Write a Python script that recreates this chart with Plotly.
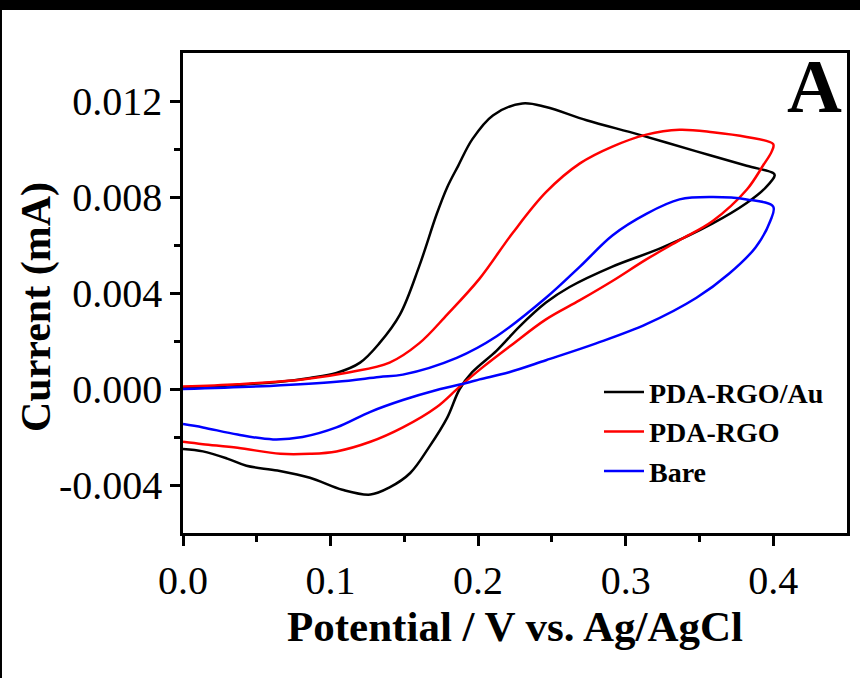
import plotly.graph_objects as go

# PDA-RGO/Au (black) - full CV loop: forward then reverse
au_v = [0.000, 0.037, 0.066, 0.086, 0.104, 0.120, 0.133, 0.147, 0.160, 0.172, 0.179, 0.1865,
        0.196, 0.210, 0.230, 0.246, 0.2735, 0.309, 0.348, 0.382, 0.400,
        0.401, 0.395, 0.382, 0.359, 0.325, 0.291, 0.262, 0.246, 0.228, 0.2126, 0.196,
        0.1875, 0.179, 0.167, 0.154, 0.140, 0.127, 0.108, 0.086, 0.064, 0.043, 0.030, 0.0135, 0.000]
au_i = [0.00004, 0.00017, 0.00030, 0.00046, 0.00067, 0.0011, 0.0019, 0.0031, 0.0051, 0.0073, 0.0084, 0.0093,
        0.0104, 0.0114, 0.0119, 0.01175, 0.0112, 0.0106, 0.0099, 0.0093, 0.0090,
        0.0089, 0.0084, 0.00775, 0.0069, 0.0059, 0.0051, 0.00425, 0.0036, 0.0026, 0.0016, 0.0007,
        0.0000, -0.0012, -0.0024, -0.0035, -0.0041, -0.0044, -0.0042, -0.0037, -0.0034, -0.0032, -0.0029, -0.0026, -0.0025]

# PDA-RGO (red)
rgo_v = [0.000, 0.037, 0.081, 0.113, 0.140, 0.160, 0.179, 0.201, 0.2234, 0.246, 0.269, 0.291,
         0.314, 0.3365, 0.359, 0.382, 0.400,
         0.399, 0.393, 0.382, 0.359, 0.3365, 0.314, 0.291, 0.269, 0.246, 0.222, 0.203,
         0.1875, 0.172, 0.149, 0.127, 0.104, 0.086, 0.066, 0.037, 0.0135, 0.000]
rgo_i = [0.0001, 0.0002, 0.0004, 0.0007, 0.0011, 0.0019, 0.0031, 0.0046, 0.0065, 0.0082, 0.0094, 0.0101,
         0.0106, 0.0108, 0.0107, 0.0105, 0.0102,
         0.0099, 0.0093, 0.0083, 0.0070, 0.0062, 0.0054, 0.0045, 0.0037, 0.0029, 0.0018, 0.0009,
         0.0001, -0.00075, -0.0016, -0.0022, -0.0026, -0.0027, -0.0027, -0.00245, -0.0023, -0.0022]

# Bare (blue)
bare_v = [0.000, 0.059, 0.104, 0.133, 0.149, 0.1855, 0.2126, 0.246, 0.269, 0.291,
          0.314, 0.3365, 0.359, 0.382, 0.400,
          0.398, 0.388, 0.370, 0.348, 0.314, 0.280, 0.246, 0.221, 0.201, 0.194,
          0.172, 0.149, 0.127, 0.104, 0.081, 0.061, 0.037, 0.0135, 0.000]
bare_i = [0.0000, 0.00013, 0.0003, 0.0005, 0.0006, 0.0013, 0.0022, 0.0038, 0.0051, 0.0064,
          0.0073, 0.0079, 0.0080, 0.0079, 0.0076,
          0.0070, 0.0059, 0.0048, 0.0038, 0.0027, 0.0019, 0.0012, 0.0007, 0.0004, 0.00028,
          -0.00004, -0.00046, -0.00095, -0.0016, -0.0020, -0.0021, -0.0019, -0.0016, -0.00146]

series = [
    ("PDA-RGO/Au", au_v, au_i, "#000000"),
    ("PDA-RGO", rgo_v, rgo_i, "#ff0000"),
    ("Bare", bare_v, bare_i, "#0000ff"),
]

x_ticks = [0.0, 0.1, 0.2, 0.3, 0.4]
x_tick_labels = ["0.0", "0.1", "0.2", "0.3", "0.4"]
y_ticks = [-0.004, 0.000, 0.004, 0.008, 0.012]
y_tick_labels = ["-0.004", "0.000", "0.004", "0.008", "0.012"]

SERIF = "Liberation Serif, Times New Roman, serif"

fig = go.Figure()
for name, v, i, c in series:
    fig.add_trace(go.Scatter(x=v, y=i, mode="lines", name="<b>" + name + "</b>",
                             line=dict(color=c, width=2.5, shape="spline", smoothing=1.0)))

axis_common = dict(showgrid=False, zeroline=False, showline=True, linecolor="black",
                   linewidth=2.5, mirror=True, ticks="outside", tickcolor="black",
                   tickwidth=2.5, ticklen=10)

fig.update_xaxes(range=[0, 0.45], tickvals=x_ticks, ticktext=x_tick_labels,
                 tickfont=dict(family=SERIF, size=40, color="black"),
                 title=dict(text="<b>Potential / V vs. Ag/AgCl</b>",
                            font=dict(family=SERIF, size=43, color="black"), standoff=10),
                 minor=dict(tickvals=[0.05, 0.15, 0.25, 0.35], ticks="outside", ticklen=6,
                            tickwidth=2.5, tickcolor="black"),
                 **axis_common)
fig.update_yaxes(range=[-0.006, 0.014], tickvals=y_ticks, ticktext=y_tick_labels,
                 tickfont=dict(family=SERIF, size=40, color="black"),
                 minor=dict(tickvals=[-0.002, 0.002, 0.006, 0.010], ticks="outside", ticklen=6,
                            tickwidth=2.5, tickcolor="black"),
                 **axis_common)

fig.update_layout(
    width=860, height=678,
    margin=dict(l=183, r=13, t=53, b=145, autoexpand=False),
    paper_bgcolor="white", plot_bgcolor="white",
    showlegend=True,
    legend=dict(x=0.6265, y=0.345, xanchor="left", yanchor="top",
                bgcolor="rgba(0,0,0,0)", borderwidth=0,
                font=dict(family=SERIF, size=28, color="black"),
                tracegroupgap=0, itemwidth=40),
    annotations=[
        dict(text="<b>A</b>", x=0.995, y=1.023, xref="paper", yref="paper",
             xanchor="right", yanchor="top", showarrow=False,
             font=dict(family=SERIF, size=76, color="black")),
        dict(text="<b>Current (mA)</b>", x=-0.2214, y=0.4708, xref="paper", yref="paper",
             xanchor="center", yanchor="middle", textangle=-90, showarrow=False,
             font=dict(family=SERIF, size=42, color="black")),
    ],
    shapes=[
        dict(type="rect", xref="paper", yref="paper", x0=-0.3, x1=1.1, y0=1.0896, y1=1.12,
             fillcolor="black", line=dict(width=0), layer="above"),
        dict(type="rect", xref="paper", yref="paper", x0=-0.3, x1=-0.2726, y0=-0.31, y1=1.12,
             fillcolor="black", line=dict(width=0), layer="above"),
    ],
)

fig.write_html("out.html", config={"displayModeBar": False},
               post_script="document.body.style.margin='0';document.body.style.padding='0';")
